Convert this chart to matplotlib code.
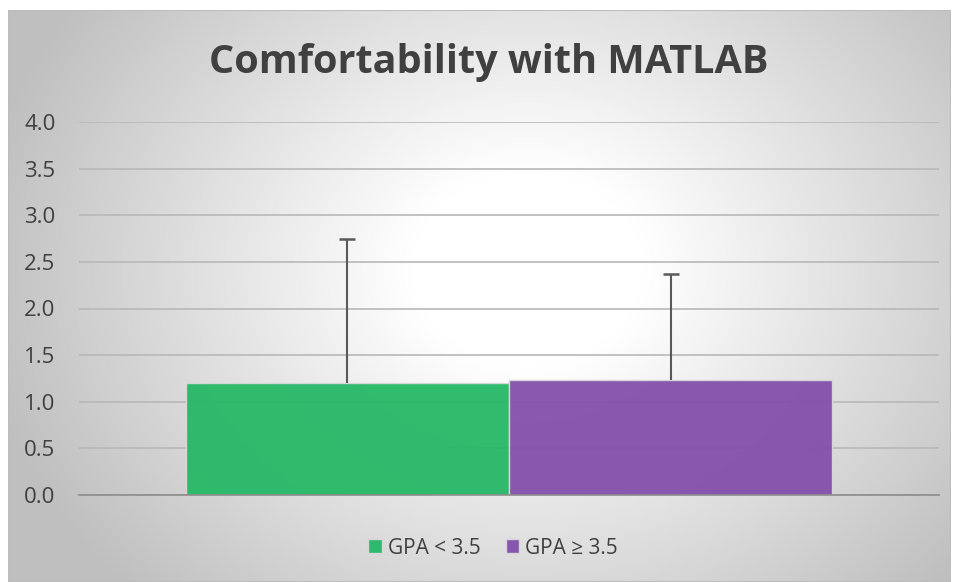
import numpy as np
import matplotlib.pyplot as plt
from matplotlib.patches import Rectangle

# data
series = ["GPA < 3.5", "GPA \u2265 3.5"]
means = [1.20, 1.23]
errors = [1.545, 1.14]
colors = ["#25b866", "#8350ab"]
yticks = [0.0, 0.5, 1.0, 1.5, 2.0, 2.5, 3.0, 3.5, 4.0]

W, H = 959, 582
fig = plt.figure(figsize=(W / 100, H / 100), dpi=100)
fig.patch.set_facecolor("white")

# radial gradient background of the chart frame
bg = fig.add_axes([8 / W, 0, 943 / W, 572 / H])
ny, nx = 286, 472
yy, xx = np.mgrid[0:ny, 0:nx]
cx, cy = nx * 0.55, ny * 0.45
r = np.sqrt(((xx - cx) / (nx * 0.62)) ** 2 + ((yy - cy) / (ny * 0.85)) ** 2)
shade = 1.0 - 0.26 * np.clip(r - 0.2, 0, None) / 0.78
shade = np.clip(shade, 0.75, 1.0)
bg.imshow(np.dstack([shade] * 3), aspect="auto", extent=[0, 1, 0, 1], origin="upper")
bg.set_xlim(0, 1)
bg.set_ylim(0, 1)
bg.axis("off")
bg.add_patch(Rectangle((0, 0), 1, 1, fill=False, edgecolor="#bdbdbd", lw=1.5,
                       transform=bg.transAxes))

ax = fig.add_axes([79 / W, (H - 495) / H, 860 / W, 373 / H])
ax.patch.set_alpha(0)
ax.set_xlim(-0.5, 0.5)
ax.set_ylim(0, 4)

w = 0.3756
xs = [-w / 2, w / 2]
for x, m, e, c, lab in zip(xs, means, errors, colors, series):
    ax.bar(x, m, width=w, color=c, alpha=0.95, edgecolor="#d8d8d8", linewidth=1.0,
           label=lab, zorder=2)
    # only the upper whisker, as in the source chart
    ax.vlines(x, m, m + e, color="#595959", lw=1.5, zorder=3)
    ax.plot(x, m + e, marker="_", markersize=12, markeredgewidth=1.8,
            color="#595959", zorder=3)

ax.set_yticks(yticks)
ax.set_yticklabels([f"{v:.1f}" for v in yticks], fontsize=16, color="#404040",
                   family="Open Sans")
ax.set_xticks([])
ax.grid(axis="y", color="#b8b8b8", lw=1.2, zorder=1)
ax.tick_params(axis="y", length=0, pad=17)
for s in ["top", "right", "left"]:
    ax.spines[s].set_visible(False)
ax.spines["bottom"].set_color("#8c8c8c")
ax.spines["bottom"].set_linewidth(1.2)

fig.text(489 / W, 1 - 63 / H, "Comfortability with MATLAB", ha="center", va="center",
         fontsize=28.5, fontweight="bold", color="#404040", family="Open Sans")

leg = ax.legend(loc="center", bbox_to_anchor=(493 / W, 1 - 548 / H),
                bbox_transform=fig.transFigure, ncol=2, frameon=False,
                prop={"family": "Open Sans", "size": 15}, handlelength=0.65,
                handleheight=0.65, handletextpad=0.3, columnspacing=1.2)
for t in leg.get_texts():
    t.set_color("#404040")

fig.savefig("out.png", dpi=100)
